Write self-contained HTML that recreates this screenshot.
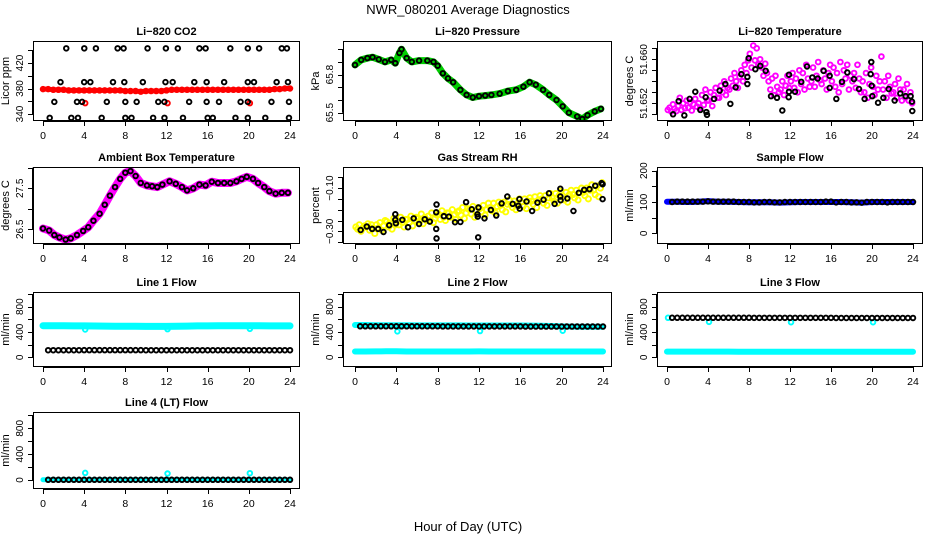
<!DOCTYPE html>
<html><head><meta charset="utf-8"><title>NWR_080201 Average Diagnostics</title>
<style>
html,body{margin:0;padding:0;background:#fff;}
svg{display:block;font-family:"Liberation Sans",Arial,sans-serif;}
</style></head>
<body>
<svg id="chart" width="936" height="540" viewBox="0 0 936 540" xmlns="http://www.w3.org/2000/svg">
<rect x="0" y="0" width="936" height="540" fill="#fff"/>
<text x="468" y="14" font-size="13" text-anchor="middle">NWR_080201  Average Diagnostics</text>
<text x="468" y="531" font-size="13" text-anchor="middle">Hour of Day (UTC)</text>
</svg>
<script>
// ---------- data ----------
const xTicks=[0,4,8,12,16,20,24];
const halfHours=[0.5,1,1.5,2,2.5,3,3.5,4,4.5,5,5.5,6,6.5,7,7.5,8,8.5,9,9.5,10,10.5,11,11.5,12,12.5,13,13.5,14,14.5,15,15.5,16,16.5,17,17.5,18,18.5,19,19.5,20,20.5,21,21.5,22,22.5,23,23.5,24];
const wholeHours=[0,1,2,3,4,5,6,7,8,9,10,11,12,13,14,15,16,17,18,19,20,21,22,23,24];
const dipHours=[4.1,12.1,20.1];

// CO2
const co2BlackHours=[2.26,4.01,5.14,7.25,7.83,10.16,11.94,13.1,15.2,15.8,18.2,19.9,21.0,23.2,23.7,
1.7,4.0,4.6,6.8,7.9,9.7,11.9,12.6,14.7,15.9,17.6,19.9,20.5,22.7,23.8,
1.1,3.3,3.8,6.2,8.0,9.1,11.2,11.8,14.2,15.9,17.1,19.2,19.9,22.2,23.9,
0.65,2.75,3.4,5.7,8.0,8.6,10.7,11.8,13.6,16.0,16.5,18.7,19.9,21.6,23.9];
const co2BlackVals=[443,443,443,443,443,443,443,443,443,443,443,443,443,443,443,
390,390,390,390,390,390,390,390,390,390,390,390,390,390,390,
359,359,359,359,359,359,359,359,359,359,359,359,359,359,359,
334,334,334,334,334,334,334,334,334,334,334,334,334,334,334];
const co2RedHours=[0,0.5,1,1.5,2,2.5,3,3.5,4,4.5,5,5.5,6,6.5,7,7.5,8,8.5,9,9.5,10,10.5,11,11.5,12,12.5,13,13.5,14,14.5,15,15.5,16,16.5,17,17.5,18,18.5,19,19.5,20,20.5,21,21.5,22,22.5,23,23.5,24];
const co2RedVals=[379,379,378,378,378,377,377,377,377,377,377,377,377,377,377,377,376,376,376,375,376,376,376,376,377,378,378,378,378,378,378,378,378,378,378,378,378,378,378,378,378,378,378,378,378,379,379,380,380];
const co2RedDipVals=[357,357,357];

// Pressure
const presHours=[0,0.6,1.2,1.7,2.3,2.9,3.5,3.9,4.3,4.5,5.0,5.5,6.2,7.0,7.6,8.0,8.5,9.0,9.5,10.2,10.8,11.4,12.0,12.6,13.2,14.0,14.8,15.6,16.3,16.9,17.5,18.2,18.8,19.5,20.1,20.7,21.5,22.0,22.5,23.2,23.8];
const presVals=[65.876,65.916,65.93,65.937,65.92,65.90,65.916,65.89,65.97,66.0,65.93,65.90,65.91,65.91,65.90,65.87,65.81,65.77,65.74,65.68,65.64,65.62,65.63,65.635,65.64,65.65,65.67,65.68,65.705,65.74,65.72,65.68,65.64,65.60,65.55,65.50,65.47,65.45,65.48,65.51,65.53];

// Li-820 temperature
const tempMagByHour=[
[51.6508,51.6512,51.6505,51.6518,51.6510,51.6506],
[51.6515,51.6530,51.6508,51.6520,51.6511,51.6525],
[51.6512,51.6522,51.6507,51.6518,51.6528,51.6514],
[51.6520,51.6512,51.6535,51.6517,51.6545,51.6525],
[51.6525,51.6540,51.6515,51.6535,51.6548,51.6530],
[51.6530,51.6552,51.6540,51.6560,51.6535,51.6548],
[51.6545,51.6565,51.6552,51.6575,51.6560,51.6548],
[51.6568,51.6580,51.6560,51.6590,51.6575,51.6598],
[51.6610,51.6585,51.6625,51.6598,51.6620,51.6590],
[51.6600,51.6585,51.6570,51.6592,51.6575,51.6560],
[51.6545,51.6565,51.6535,51.6570,51.6550,51.6540],
[51.6545,51.6560,51.6535,51.6552,51.6570,51.6548],
[51.6560,51.6575,51.6548,51.6565,51.6540,51.6580],
[51.6555,51.6575,51.6545,51.6590,51.6565,51.6550],
[51.6560,51.6585,51.6550,51.6570,51.6595,51.6562],
[51.6555,51.6580,51.6565,51.6545,51.6575,51.6590],
[51.6560,51.6585,51.6550,51.6575,51.6540,51.6595],
[51.6555,51.6580,51.6565,51.6590,51.6545,51.6570],
[51.6560,51.6575,51.6548,51.6590,51.6565,51.6540],
[51.6560,51.6540,51.6575,51.6530,51.6555,51.6585],
[51.6550,51.6535,51.6570,51.6545,51.6560,51.6605],
[51.6545,51.6560,51.6530,51.6570,51.6550,51.6538],
[51.6540,51.6555,51.6530,51.6565,51.6545,51.6525],
[51.6545,51.6530,51.6555,51.6525,51.6540,51.6520]];
const tempBlackHours=[0.59,1.14,1.69,2.21,2.76,3.25,3.77,3.84,3.9,4.59,5.14,5.69,6.18,6.7,7.25,7.84,7.84,7.97,8.62,9.1,9.63,10.15,10.73,11.25,11.87,11.9,11.9,12.49,13.1,13.66,14.18,14.7,15.28,15.87,15.87,16.52,17.07,17.59,18.24,18.73,19.28,19.87,19.93,19.97,20.03,20.59,21.11,21.63,22.21,22.76,23.28,23.77,23.9,23.93];
const tempBlackVals=[51.6500,51.6524,51.6498,51.6528,51.6541,51.6508,51.6531,51.6504,51.6499,51.6528,51.6543,51.6555,51.6519,51.6549,51.6573,51.6555,51.6568,51.6602,51.6582,51.6588,51.6579,51.6533,51.6530,51.6507,51.6531,51.6541,51.6572,51.6541,51.6559,51.6587,51.6567,51.6565,51.6579,51.6570,51.6548,51.6528,51.6559,51.6576,51.6564,51.6546,51.6528,51.6573,51.6595,51.6552,51.6533,51.6521,51.6530,51.6546,51.6525,51.6538,51.6533,51.6533,51.6523,51.6506];

// Ambient box temperature
const ambHours=[0,0.6,1.1,1.6,2.2,2.7,3.3,3.9,4.4,4.9,5.5,6.0,6.5,7.0,7.5,8.0,8.5,9.0,9.5,10.1,10.6,11.1,11.6,12.3,12.9,13.5,14.0,14.6,15.2,15.8,16.4,17.0,17.6,18.2,18.8,19.3,19.8,20.4,20.9,21.5,22.0,22.6,23.2,23.8];
const ambVals=[26.52,26.47,26.36,26.30,26.25,26.28,26.36,26.46,26.55,26.71,26.88,27.10,27.32,27.53,27.73,27.88,27.92,27.80,27.63,27.57,27.55,27.53,27.59,27.67,27.61,27.53,27.45,27.50,27.59,27.57,27.66,27.63,27.63,27.63,27.67,27.73,27.78,27.73,27.63,27.53,27.43,27.37,27.39,27.39];

// Gas stream RH
const rhYellowByHour=[
[-0.28,-0.29,-0.27,-0.30,-0.285,-0.275],[-0.28,-0.265,-0.295,-0.27,-0.285,-0.31],
[-0.27,-0.285,-0.26,-0.295,-0.275,-0.25],[-0.255,-0.28,-0.265,-0.29,-0.24,-0.27],
[-0.25,-0.27,-0.235,-0.26,-0.28,-0.245],[-0.245,-0.26,-0.23,-0.275,-0.25,-0.235],
[-0.24,-0.255,-0.22,-0.265,-0.235,-0.25],[-0.23,-0.25,-0.215,-0.26,-0.24,-0.225],
[-0.22,-0.245,-0.205,-0.235,-0.25,-0.215],[-0.215,-0.235,-0.2,-0.225,-0.245,-0.21],
[-0.205,-0.225,-0.19,-0.24,-0.215,-0.195],[-0.2,-0.22,-0.185,-0.235,-0.205,-0.19],
[-0.195,-0.21,-0.18,-0.225,-0.2,-0.17],[-0.19,-0.205,-0.17,-0.215,-0.185,-0.165],
[-0.18,-0.2,-0.165,-0.21,-0.175,-0.155],[-0.175,-0.19,-0.16,-0.2,-0.17,-0.15],
[-0.165,-0.185,-0.15,-0.195,-0.16,-0.145],[-0.16,-0.175,-0.14,-0.19,-0.155,-0.135],
[-0.15,-0.17,-0.135,-0.18,-0.145,-0.125],[-0.145,-0.16,-0.125,-0.17,-0.135,-0.115],
[-0.135,-0.155,-0.12,-0.165,-0.13,-0.11],[-0.13,-0.145,-0.11,-0.155,-0.12,-0.1],
[-0.12,-0.135,-0.1,-0.15,-0.11,-0.085],[-0.11,-0.13,-0.09,-0.14,-0.1,-0.075]];
const rhBlackHours=[0.55,1.14,1.66,2.24,2.76,3.31,3.9,3.9,3.96,4.58,5.13,5.68,6.2,6.75,7.24,7.86,7.86,7.89,7.89,8.6,9.09,9.68,10.2,10.75,11.3,11.85,11.88,11.95,11.92,12.53,13.15,13.67,14.19,14.74,15.26,15.81,15.91,15.94,16.6,17.14,17.66,18.25,18.77,19.32,19.87,19.87,19.9,20.55,21.14,21.66,22.18,22.69,23.25,23.86,23.96,23.96];
const rhBlackVals=[-0.294,-0.278,-0.289,-0.289,-0.303,-0.272,-0.221,-0.247,-0.263,-0.247,-0.281,-0.24,-0.266,-0.244,-0.255,-0.289,-0.212,-0.176,-0.333,-0.23,-0.232,-0.258,-0.257,-0.165,-0.198,-0.221,-0.232,-0.19,-0.328,-0.24,-0.201,-0.227,-0.171,-0.139,-0.173,-0.182,-0.151,-0.195,-0.162,-0.206,-0.167,-0.154,-0.124,-0.173,-0.103,-0.139,-0.156,-0.148,-0.206,-0.122,-0.108,-0.105,-0.089,-0.077,-0.082,-0.151];

// Sample flow
const sampleBlueVals=[101,101,100,101,103,101,101,100,99,99,99,98,99,100,100,100,100,100,99,98,100,100,100,100,100];
const sampleBlackVals=[100,101,101,101,101,101,101,102,101,101,101,101,101,100,100,100,99,99,100,100,99,99,100,100,100,100,100,100,100,100,101,101,99,100,100,99,99,98,100,100,100,100,99,100,100,100,100,100];

// Line flows
const l1CyanVals=[500,500,498,497,496,495,494,492,490,490,488,488,489,492,494,496,497,498,498,498,498,498,497,497,497];
const l1CyanDipVals=[440,445,450];
const l1BlackVals=[112,112,112,112,112,112,112,113,113,113,113,113,113,113,113,113,113,113,113,112,112,112,112,112,112,112,112,112,112,112,112,112,112,112,112,112,112,112,112,112,112,112,112,112,112,112,112,112];
const l2CyanHiVals=[510,510,508,508,507,506,505,505,505,504,504,503,503,502,502,502,502,501,500,495,488,486,484,484,484];
const l2CyanDipVals=[410,415,420];
const l2CyanLoVals=[92,92,93,95,95,92,92,92,92,92,92,92,94,92,92,92,92,92,92,92,92,92,92,92,92];
const l2BlackVals=[490,490,490,490,490,490,490,490,490,490,490,490,490,490,490,490,488,488,488,488,488,488,488,488,488,488,488,488,488,488,488,488,486,486,486,486,486,486,486,486,486,486,486,486,486,486,486,486];
const l3CyanStartVals=[625];
const l3CyanVals=[90,90,90,90,90,90,90,88,88,88,88,88,88,88,88,88,88,88,88,88,88,88,88,88,88];
const l3CyanDipVals=[560,555,555];
const l3BlackVals=[625,625,625,625,625,625,625,625,625,625,625,625,625,625,625,625,624,624,624,624,624,624,624,624,624,624,624,624,624,624,624,624,622,622,622,622,622,622,622,622,622,622,622,622,622,622,622,622];
const l4CyanVals=[5,5,5,5,5,5,5,5,5,5,5,5,5,5,5,5,5,5,5,5,5,5,5,5,5];
const l4CyanDipVals=[110,100,105];
const l4BlackVals=[3,3,3,3,3,3,3,3,3,3,3,3,3,3,3,3,3,3,3,3,3,3,3,3,3,3,3,3,3,3,3,3,3,3,3,3,3,3,3,3,3,3,3,3,3,3,3,3];

// ---------- drawing ----------
const NS='http://www.w3.org/2000/svg';
const svg=document.getElementById('chart');
const cols=[{l:33,r:300,x0:43,x24:290},{l:343,r:612,x0:355,x24:603},{l:657,r:923,x0:667,x24:913}];
const rows=[{t:41,b:121},{t:167,b:244},{t:292,b:367},{t:412,b:489}];
function mk(tag,parent,attrs){const e=document.createElementNS(NS,tag);for(const k in attrs)e.setAttribute(k,attrs[k]);parent.appendChild(e);return e;}
let clipN=0;
function fmt(v){
  if(v>51&&v<52) return v.toFixed(3);
  if(Math.abs(v)<1&&v!==0) return v.toFixed(2).replace('-','\u2212');
  return String(v);
}
function panel(key,ci,ri,title,ylab,v0,p0,v1,p1,ticks,labels){
  const C=cols[ci],R=rows[ri];
  const g=mk('g',svg,{});
  
  
  const x=h=>C.x0+h*(C.x24-C.x0)/24;
  const y=v=>p0+(v-v0)*(p1-p0)/(v1-v0);
  const cid='clip'+(clipN++);
  const cp=mk('clipPath',g,{id:cid});
  mk('rect',cp,{x:C.l,y:R.t,width:C.r-C.l,height:R.b-R.t});
  const t=mk('text',g,{x:(C.l+C.r)/2,y:R.t-6,'font-size':11,'font-weight':'bold','text-anchor':'middle'});
  t.textContent=title;
  
  
  const xa=mk('g',g,{stroke:'#000','stroke-width':1,fill:'none'});
  
  
  mk('line',xa,{x1:x(xTicks[0]),x2:x(xTicks[xTicks.length-1]),y1:R.b+0.5,y2:R.b+0.5});
  xTicks.forEach(h=>{
    mk('line',xa,{x1:Math.round(x(h))+0.5,x2:Math.round(x(h))+0.5,y1:R.b,y2:R.b+5});
    const tl=mk('text',g,{x:x(h),y:R.b+18,'font-size':10.5,'text-anchor':'middle'});
    tl.textContent=h;
    
    
  });
  const ya=mk('g',g,{stroke:'#000','stroke-width':1,fill:'none'});
  
  
  mk('line',ya,{x1:C.l-0.5,x2:C.l-0.5,y1:y(ticks[0]),y2:y(ticks[ticks.length-1])});
  ticks.forEach(v=>{mk('line',ya,{x1:C.l-5,x2:C.l,y1:Math.round(y(v))+0.5,y2:Math.round(y(v))+0.5});});
  labels.forEach(v=>{
    const yy=y(v),xx=C.l-10;
    const tl=mk('text',g,{x:xx,y:yy,'font-size':10,'text-anchor':'middle',transform:'rotate(-90 '+xx+' '+yy+')'});
    tl.textContent=fmt(v);
    
    
  });
  const yl=mk('text',g,{x:C.l-24,y:(R.t+R.b)/2,'font-size':11,'text-anchor':'middle',transform:'rotate(-90 '+(C.l-24)+' '+((R.t+R.b)/2)+')'});
  yl.textContent=ylab;
  
  
  const plot=mk('g',g,{'clip-path':'url(#'+cid+')'});
  
  
  const box=mk('rect',g,{x:C.l+0.5,y:R.t+0.5,width:C.r-C.l-1,height:R.b-R.t-1,fill:'none',stroke:'#000','stroke-width':1});
  
  
  return {x,y,plot};
}
function dots(P,hs,vs,color,name,r){
  const g=mk('g',P.plot,{fill:'none',stroke:color,'stroke-width':1.9});
  
  
  for(let i=0;i<vs.length;i++){
    const c=mk('circle',g,{cx:P.x(hs[i]),cy:P.y(vs[i]),r:r||2.3});
    
    
  }
}
function band(P,hs,vs,color,name,w){
  const pts=vs.map((v,i)=>P.x(hs[i]).toFixed(1)+','+P.y(v).toFixed(1)).join(' ');
  const pl=mk('polyline',P.plot,{points:pts,fill:'none',stroke:color,'stroke-width':w,'stroke-linejoin':'round','stroke-linecap':'round'});
  
  
}
function nested(P,byHour,color,name,r){
  const g=mk('g',P.plot,{fill:'none',stroke:color,'stroke-width':1.9});
  
  
  byHour.forEach((arr,h)=>arr.forEach((v,j)=>{
    const c=mk('circle',g,{cx:P.x(h+(j+0.5)/arr.length),cy:P.y(v),r:r||2.5});
    
    
  }));
}

const p1=panel('co2',0,0,'Li\u2212820 CO2','Licor ppm',340,114,420,63,[340,360,380,400,420,440],[340,380,420]);
band(p1,co2RedHours,co2RedVals,'#ff0000','co2-red-band',5);
dots(p1,co2RedHours,co2RedVals,'#ff0000','co2-red-series');
dots(p1,dipHours,co2RedDipVals,'#ff0000','co2-red-dips');
dots(p1,co2BlackHours,co2BlackVals,'#000','co2-black-series');

const p2=panel('pressure',1,0,'Li\u2212820 Pressure','kPa',65.5,112.7,65.6,100,[65.5,65.6,65.7,65.8,65.9,66.0],[65.5,65.8]);
band(p2,presHours,presVals,'#00cc00','pressure-green-band',7);
dots(p2,presHours,presVals,'#000','pressure-black-series');

const p3=panel('li820-temp',2,0,'Li\u2212820 Temperature','degrees C',51.650,114.3,51.652,103.3,[51.650,51.652,51.654,51.656,51.658,51.660,51.662],[51.652,51.660]);
nested(p3,tempMagByHour,'#ff00ff','temp-magenta-series',2.4);
dots(p3,tempBlackHours,tempBlackVals,'#000','temp-black-series');

const p4=panel('ambient-temp',0,1,'Ambient Box Temperature','degrees C',26.5,229.3,27.5,188.3,[26.5,27.0,27.5,28.0],[26.5,27.5]);
band(p4,ambHours,ambVals,'#ff00ff','ambient-magenta-band',8);
dots(p4,ambHours,ambVals,'#000','ambient-black-series');

const p5=panel('rh',1,1,'Gas Stream RH','percent',-0.30,231.3,-0.25,220.5,[-0.35,-0.30,-0.25,-0.20,-0.15,-0.10,-0.05],[-0.30,-0.10]);
nested(p5,rhYellowByHour,'#ffff00','rh-yellow-series',2.6);
dots(p5,rhBlackHours,rhBlackVals,'#000','rh-black-series');

const p6=panel('sample-flow',2,1,'Sample Flow','ml/min',0,233.3,200,170.7,[0,50,100,150,200],[0,100,200]);
band(p6,wholeHours,sampleBlueVals,'#0000ff','sample-blue-band',6);
dots(p6,halfHours,sampleBlackVals,'#000','sample-black-series');

const fT=[0,200,400,600,800,1000], fL=[0,400,800];
const p7=panel('line1-flow',0,2,'Line 1 Flow','ml/min',0,357.3,800,306.7,fT,fL);
band(p7,wholeHours,l1CyanVals,'#00ffff','line1-cyan-band',7);
dots(p7,dipHours,l1CyanDipVals,'#00ffff','line1-cyan-dips');
dots(p7,halfHours,l1BlackVals,'#000','line1-black-series');

const p8=panel('line2-flow',1,2,'Line 2 Flow','ml/min',0,357.3,800,306.7,fT,fL);
band(p8,wholeHours,l2CyanHiVals,'#00ffff','line2-cyan-high-band',6);
band(p8,wholeHours,l2CyanLoVals,'#00ffff','line2-cyan-low-band',6);
dots(p8,dipHours,l2CyanDipVals,'#00ffff','line2-cyan-dips');
dots(p8,halfHours,l2BlackVals,'#000','line2-black-series');

const p9=panel('line3-flow',2,2,'Line 3 Flow','ml/min',0,357.3,800,306.7,fT,fL);
band(p9,wholeHours,l3CyanVals,'#00ffff','line3-cyan-band',6);
dots(p9,[0.1],l3CyanStartVals,'#00ffff','line3-cyan-start');
dots(p9,dipHours,l3CyanDipVals,'#00ffff','line3-cyan-dips');
dots(p9,halfHours,l3BlackVals,'#000','line3-black-series');

const p10=panel('line4-flow',0,3,'Line 4 (LT) Flow','ml/min',0,480,800,428.3,fT,fL);
band(p10,wholeHours,l4CyanVals,'#00ffff','line4-cyan-band',5);
dots(p10,dipHours,l4CyanDipVals,'#00ffff','line4-cyan-dips');
dots(p10,halfHours,l4BlackVals,'#000','line4-black-series');
</script>
</body></html>
